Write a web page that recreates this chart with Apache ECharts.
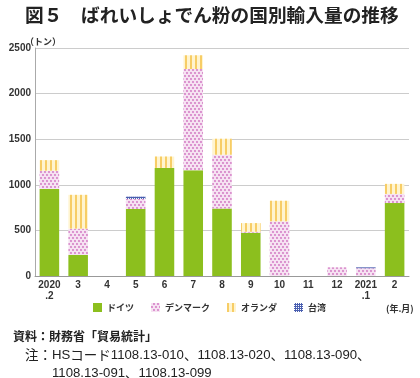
<!DOCTYPE html>
<html>
<head>
<meta charset="utf-8">
<script src="https://cdn.jsdelivr.net/npm/echarts@6/dist/echarts.min.js"></script>
<style>
  html, body { margin: 0; padding: 0; background: #fff; }
  #chart { width: 420px; height: 378px; }
</style>
</head>
<body>
<div id="chart"></div>
<script>
// 年.月
const months = ['2020\n.2', '3', '4', '5', '6', '7', '8', '9', '10', '11', '12', '2021\n.1', '2']
// トン
const germany = [955, 230, 0, 735, 1185, 1160, 740, 475, 0, 0, 0, 0, 800]
const denmark = [200, 290, 0, 110, 0, 1110, 590, 10, 600, 0, 95, 85, 100]
const netherlands = [115, 370, 0, 0, 125, 150, 175, 95, 225, 0, 0, 0, 110]
const taiwan = [0, 0, 0, 25, 0, 0, 0, 0, 0, 0, 0, 10, 0]
const yTicks = [0, 500, 1000, 1500, 2000, 2500]

const jp = '"Noto Sans CJK JP", sans-serif'
const latin = '"Liberation Sans", "Noto Sans CJK JP", sans-serif'
const chart = echarts.init(document.getElementById('chart'))

const bar = (name, data, color, decal) => ({
  name: name,
  type: 'bar',
  stack: 'total',
  barWidth: '68%',
  data: data,
  itemStyle: { color: color, decal: decal },
  emphasis: { disabled: true }
})

chart.setOption({
  animation: false,
  textStyle: { fontFamily: jp },
  title: [
    {
      text: '図５　ばれいしょでん粉の国別輸入量の推移',
      left: 20, top: 1,
      textStyle: { fontSize: 18.7, fontWeight: 'bold', color: '#222', fontFamily: jp }
    },
    {
      text: '（トン）',
      left: 20, top: 32,
      textStyle: { fontSize: 9, fontWeight: 'bold', color: '#333', fontFamily: jp }
    },
    {
      text: '(年.月)',
      left: 381, top: 299,
      textStyle: { fontSize: 9, fontWeight: 'bold', color: '#333', fontFamily: jp }
    },
    {
      text: '資料：財務省「貿易統計」',
      left: 8, top: 325,
      textStyle: { fontSize: 12, fontWeight: 'bold', color: '#222', fontFamily: jp }
    },
    {
      text: '{j|注：}{a|HS}{j|コード}{a|1108.13-010}{j|、}{a|1108.13-020}{j|、}{a|1108.13-090}{j|、}\n' +
            '{j|　　}{a|1108.13-091}{j|、}{a|1108.13-099}',
      left: 20, top: 341,
      textStyle: {
        fontWeight: 'normal',
        rich: {
          j: { fontSize: 13.5, fontWeight: 'normal', color: '#222', fontFamily: jp, lineHeight: 18 },
          a: { fontSize: 13.2, fontWeight: 'normal', color: '#222', fontFamily: latin, lineHeight: 18 }
        }
      }
    }
  ],
  legend: {
    left: 88, top: 298,
    itemWidth: 9, itemHeight: 9, itemGap: 17,
    icon: 'rect',
    textStyle: { fontSize: 9, fontWeight: 'bold', color: '#333', fontFamily: jp },
    data: ['ドイツ', 'デンマーク', 'オランダ', '台湾']
  },
  grid: { left: 35, right: 11, top: 48, bottom: 102 },
  xAxis: {
    type: 'category',
    data: months,
    axisLine: { lineStyle: { color: '#999' } },
    axisTick: { show: false },
    axisLabel: {
      interval: 0, margin: 4,
      fontSize: 10, fontWeight: 'bold', color: '#333',
      fontFamily: latin, lineHeight: 11
    }
  },
  yAxis: {
    type: 'value',
    min: yTicks[0], max: yTicks[yTicks.length - 1], interval: 500,
    axisLine: { show: true, lineStyle: { color: '#aaa' } },
    axisTick: { show: false },
    splitLine: { lineStyle: { color: '#ccc', width: 1 } },
    axisLabel: {
      margin: 4, fontSize: 10, fontWeight: 'bold', color: '#333',
      fontFamily: latin,
      formatter: v => String(v)
    }
  },
  series: [
    bar('ドイツ', germany, '#8cbf1e', null),
    bar('デンマーク', denmark, '#f6e2f2', {
      symbol: 'circle', symbolSize: 0.9, color: '#cf6fbf',
      dashArrayX: [[2, 2], [0, 2, 2, 0]], dashArrayY: [2, 1], rotation: 0
    }),
    bar('オランダ', netherlands, '#fff4cf', {
      symbol: 'rect', symbolSize: 1, color: '#f7cd66',
      dashArrayX: [2, 3], dashArrayY: [20, 0], rotation: 0
    }),
    bar('台湾', taiwan, '#4a5fb0', {
      symbol: 'rect', symbolSize: 1, color: '#ffffff',
      dashArrayX: [1, 1], dashArrayY: [1, 1], rotation: 0
    })
  ]
})
</script>
</body>
</html>
